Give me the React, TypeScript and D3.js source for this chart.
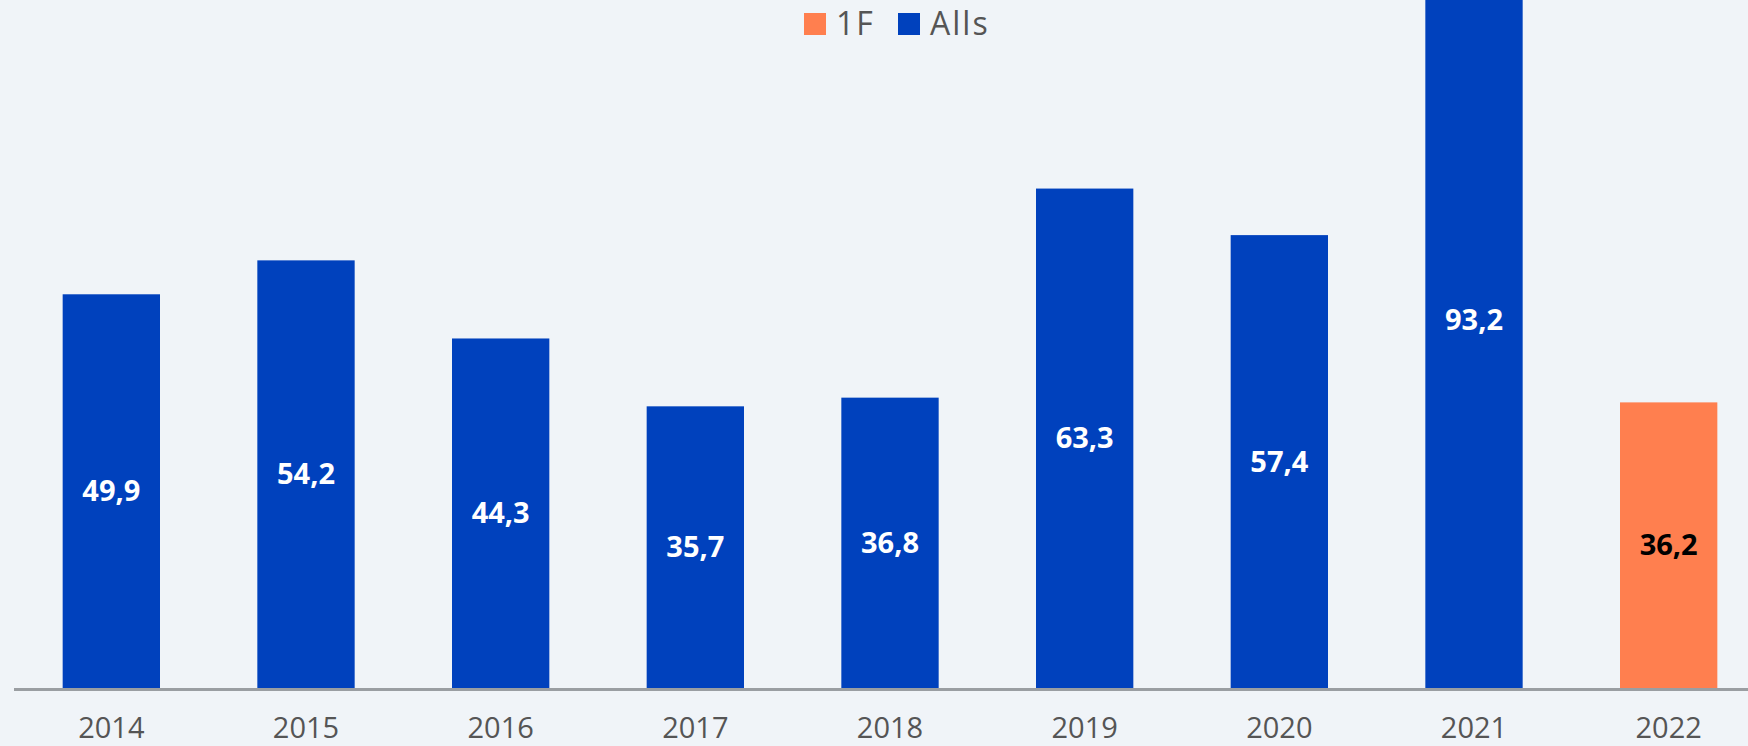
import React from 'react';
import * as d3 from 'd3';

const years = ['2014', '2015', '2016', '2017', '2018', '2019', '2020', '2021', '2022'];
const values = [49.9, 54.2, 44.3, 35.7, 36.8, 63.3, 57.4, 93.2, 36.2];
const series = ['Alls', 'Alls', 'Alls', 'Alls', 'Alls', 'Alls', 'Alls', 'Alls', '1F'];
const legendItems = ['1F', 'Alls'];

const WIDTH = 1748;
const HEIGHT = 746;
const BASE = 688;
const FONT = "'Open Sans', 'DejaVu Sans', sans-serif";

const colors: Record<string, string> = { '1F': '#FF7F4F', Alls: '#0041BD' };

function App() {
    const x = d3.scaleBand<string>().domain(years).range([14, 1766]).paddingInner(0.5).paddingOuter(0.25);
    const y = d3.scaleLinear().domain([0, 100]).range([BASE, BASE - 789]);

    const fmt = (v: number) => d3.format('.1f')(v).replace('.', ',');

    return (
        <svg width={WIDTH} height={HEIGHT} style={{ position: 'absolute', left: 0, top: 0, background: '#F0F4F8' }}>
            <rect x={0} y={0} width={WIDTH} height={HEIGHT} fill="#F0F4F8" />
            <g>
                {years.map((yr, i) => (
                    <rect key={yr} x={x(yr)} y={y(values[i])} width={x.bandwidth()} height={BASE - y(values[i])} fill={colors[series[i]]} />
                ))}
            </g>
            <line x1={14} x2={WIDTH} y1={BASE + 1.5} y2={BASE + 1.5} stroke="#9A9EA2" strokeWidth={3} />
            <g fontFamily={FONT}>
                {years.map((yr, i) => (
                    <text key={'v' + yr} x={(x(yr) || 0) + x.bandwidth() / 2} y={(y(values[i]) + BASE) / 2 + 10}
                        textAnchor="middle" fontSize={29} fontWeight={700}
                        fill={series[i] === '1F' ? '#000' : '#fff'}>{fmt(values[i])}</text>
                ))}
                {years.map((yr) => (
                    <text key={'t' + yr} x={(x(yr) || 0) + x.bandwidth() / 2} y={738}
                        textAnchor="middle" fontSize={29} fill="#555">{yr}</text>
                ))}
            </g>
            <g fontFamily={FONT} fontSize={32} fill="#555">
                {legendItems.map((s, i) => {
                    const lx = i === 0 ? 804 : 898;
                    return (
                        <g key={s}>
                            <rect x={lx} y={13} width={22} height={22} fill={colors[s]} />
                            <text x={lx + 32} y={35} letterSpacing={2}>{s}</text>
                        </g>
                    );
                })}
            </g>
        </svg>
    );
}

export default App;
